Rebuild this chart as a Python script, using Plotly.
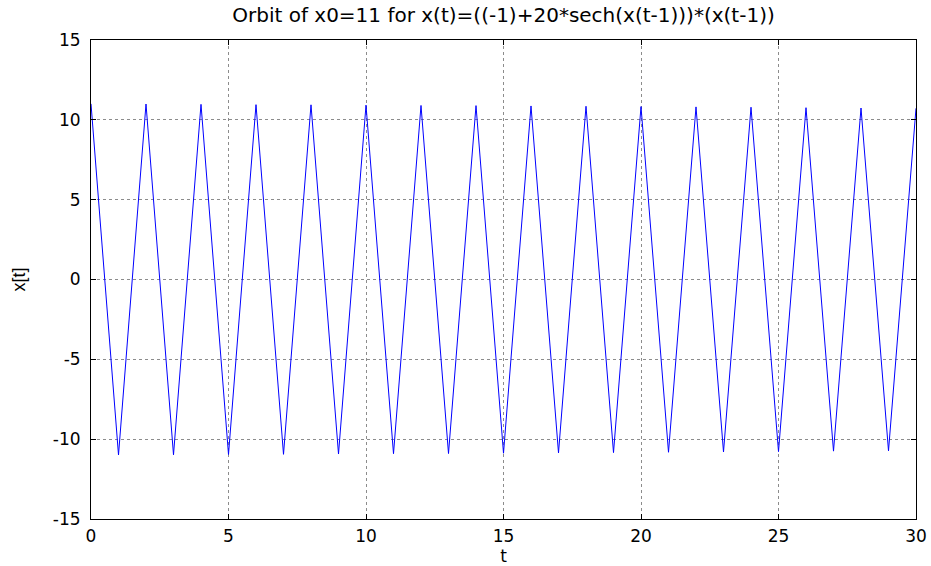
import plotly.graph_objects as go

t_values = list(range(31))
x_values = [11.00, -10.99, 10.99, -10.98, 10.97, -10.96, 10.95, -10.95, 10.94,
            -10.93, 10.92, -10.91, 10.90, -10.90, 10.89, -10.88, 10.87, -10.86,
            10.85, -10.84, 10.83, -10.82, 10.81, -10.80, 10.79, -10.78, 10.76,
            -10.75, 10.74, -10.73, 10.72]
x_ticks = [0, 5, 10, 15, 20, 25, 30]
y_ticks = [-15, -10, -5, 0, 5, 10, 15]
y_tick_labels = ["-15", "-10", "-5", "0", "5", "10", "15"]

title_text = "Orbit of x0=11 for x(t)=((-1)+20*sech(x(t-1)))*(x(t-1))"

TICK_FONT = dict(family="DejaVu Sans", size=17, color="black")

fig = go.Figure()
fig.add_trace(go.Scatter(x=t_values, y=x_values, mode="lines",
                         line=dict(color="#0000FF", width=1), showlegend=False,
                         hoverinfo="skip"))

axis_common = dict(
    showline=True, linecolor="black", linewidth=1, mirror="ticks",
    ticks="inside", ticklen=5, tickcolor="black", tickwidth=1,
    showgrid=True, gridcolor="#8c8c8c", griddash="dot", gridwidth=1,
    zeroline=False, automargin=False,
    tickfont=TICK_FONT,
)

fig.update_layout(
    width=931, height=566,
    margin=dict(l=91, r=15, t=40, b=47, autoexpand=False),
    paper_bgcolor="white", plot_bgcolor="white",
    title=dict(text=title_text, x=(91 + 916) / 2 / 931, xanchor="center",
               y=1 - 15 / 566, yanchor="middle",
               font=dict(family="DejaVu Sans", size=20, color="black")),
    xaxis=dict(range=[0, 30], tickvals=x_ticks, ticklabelstandoff=2,
               title=dict(text="t", standoff=3,
                          font=dict(family="DejaVu Sans", size=17, color="black")),
               **axis_common),
    yaxis=dict(range=[-15, 15], tickvals=y_ticks, ticktext=y_tick_labels,
               ticklabelstandoff=6,
               title=dict(text="x[t]", standoff=22,
                          font=dict(family="Liberation Sans", size=18, color="black")),
               **axis_common),
)

fig.write_html(
    "out.html",
    config={"displayModeBar": False, "staticPlot": True},
    post_script="document.body.style.margin='0px';document.body.style.padding='0px';",
)
